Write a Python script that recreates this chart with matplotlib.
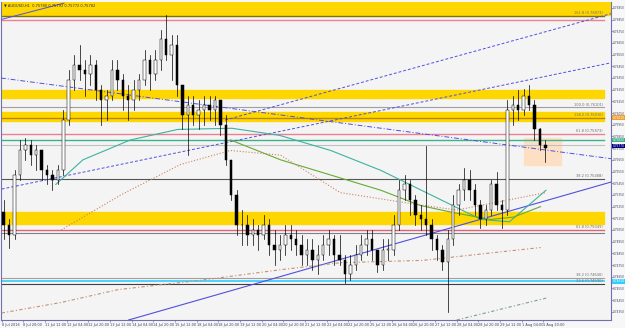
import numpy as np
import matplotlib.pyplot as plt
from matplotlib.patches import Rectangle

# AUDUSD H1, grouped by 4 bars (values in pips, price = v/10000)
highs = [7531,7514,7556,7582,7584,7582,7578,7573,7561,7556,7561,7608,7642,7655,7663,7650,7655,7650,7629,7625,
         7650,7650,7638,7629,7633,7638,7659,7655,7659,7676,7689,7672,7672,7629,7620,7620,7616,7620,7620,7620,
         7616,7603,7565,7539,7522,7518,7514,7509,7518,7514,7505,7501,7509,7509,7505,7501,7497,7497,7492,7501,
         7505,7501,7501,7484,7484,7492,7501,7505,7505,7488,7497,7497,7518,7548,7552,7548,7535,7526,7577,7514,
         7501,7492,7505,7535,7544,7558,7556,7544,7531,7526,7548,7555,7531,7616,7620,7625,7626,7629,7616,7592,7582]
lows = [7497,7490,7497,7548,7565,7561,7556,7548,7544,7539,7544,7552,7595,7625,7633,7620,7629,7616,7595,7599,
        7616,7625,7608,7599,7608,7616,7629,7625,7633,7642,7650,7633,7620,7591,7569,7595,7591,7595,7599,7595,
        7586,7561,7531,7501,7492,7492,7492,7488,7497,7484,7475,7479,7484,7488,7484,7475,7475,7471,7467,7479,
        7484,7475,7475,7460,7462,7471,7479,7484,7479,7469,7471,7479,7484,7505,7531,7518,7509,7505,7501,7488,
        7479,7471,7435,7492,7518,7531,7531,7518,7507,7509,7518,7522,7507,7518,7595,7599,7603,7608,7582,7573,7563]
closes = [7509,7501,7552,7573,7578,7569,7573,7556,7552,7548,7556,7599,7633,7646,7642,7638,7646,7625,7616,7620,
          7642,7633,7620,7616,7625,7633,7650,7638,7650,7668,7655,7663,7629,7603,7612,7603,7608,7612,7608,7616,
          7595,7565,7535,7509,7509,7501,7505,7501,7509,7492,7488,7492,7501,7497,7492,7484,7488,7479,7484,7492,
          7497,7484,7479,7467,7475,7484,7492,7497,7488,7475,7488,7488,7509,7539,7544,7531,7518,7514,7509,7497,
          7488,7478,7497,7526,7539,7548,7539,7526,7514,7522,7544,7526,7522,7608,7612,7608,7620,7612,7591,7578,7575]
first_open = 7520

# moving averages (bar index, pips)
teal_x = [40, 60, 95, 130, 170, 205, 243, 280, 317, 354, 375, 402]
teal_y = [7544, 7565, 7582, 7591, 7592, 7586, 7573, 7556, 7535, 7514, 7512, 7539]
green_x = [169, 206, 243, 280, 309, 333, 361, 378, 398]
green_y = [7582, 7565, 7552, 7539, 7526, 7520, 7514, 7516, 7525]
brown_x = [44, 88, 132, 169, 206, 250, 300, 336, 402]
brown_y = [7505, 7535, 7561, 7573, 7569, 7537, 7528, 7522, 7537]
brown2_x = [0, 44, 86, 147, 206, 250, 311, 398]
brown2_y = [7434, 7443, 7454, 7462, 7471, 7477, 7479, 7490]
gg_x = [336, 403]
gg_y = [7428, 7447]

date_labels = ['8 Jul 2016', '8 Jul 20:00', '11 Jul 12:00', '12 Jul 04:00', '12 Jul 20:00', '13 Jul 12:00',
               '14 Jul 04:00', '14 Jul 20:00', '15 Jul 12:00', '18 Jul 04:00', '18 Jul 20:00', '19 Jul 12:00',
               '20 Jul 04:00', '20 Jul 20:00', '21 Jul 12:00', '22 Jul 04:00', '22 Jul 20:00', '25 Jul 12:00',
               '26 Jul 04:00', '26 Jul 20:00', '27 Jul 12:00', '28 Jul 04:00', '28 Jul 20:00', '29 Jul 12:00',
               '1 Aug 04:00', '1 Aug 20:00']

fig = plt.figure(figsize=(6.25, 3.28), dpi=100)
fig.patch.set_facecolor('#f7f7f7')
ax = fig.add_axes([1/625, 8/328, 610/625, 318/328])
ax.set_facecolor('#f4f4f4')
ax.set_xlim(-0.5, 450)
ax.set_ylim(7428, 7700)

# zones
band = '#ffd700'
ax.axhspan(7689, 7700, xmax=1, color=band, zorder=1)
ax.axhspan(7618, 7625, xmax=0.988, color=band, zorder=1)
ax.axhspan(7598, 7606, xmax=0.988, color=band, zorder=1)
ax.axhspan(7510, 7520, xmax=0.988, color=band, zorder=1)
ax.add_patch(Rectangle((386, 7561), 27, 23, color='#fde0c4', zorder=1))

hl = [(7688, '#8b6f00', 1.0), (7685, '#ee7f8f', 1.0), (7610, '#a0a0a0', 0.8), (7601, '#b8860b', 1.0),
      (7587, '#ee7f8f', 1.0), (7582, '#3cb38c', 1.0), (7578, '#c0c0c0', 0.8), (7549, '#555555', 0.8),
      (7505, '#e0607a', 1.0), (7502, '#808080', 0.8), (7464, '#a0a0a0', 0.8), (7461, '#33ccff', 1.2),
      (7459, '#404040', 0.8)]
for v, c, w in hl:
    ax.axhline(v, color=c, lw=w, xmax=0.988, zorder=2)

fib = [(7688, '161.8 (0.76873)'), (7610, '100.0 (0.76101)'), (7601, '138.2 (0.76016)'),
       (7587, '61.8 (0.75873)'), (7549, '38.2 (0.75488)'), (7505, '61.8 (0.75049)'),
       (7464, '38.2 (0.74640)'), (7459, '23.6 (0.74590)')]
for v, t in fib:
    ax.text(444, v + 0.6, t, fontsize=2.6, color='#707070', ha='right', va='bottom', zorder=3)

# trend lines
lc = '#5050e0'
ax.plot([93.7, 450], [7428, 7546], color=lc, lw=0.8, zorder=3)
ax.plot([165, 450], [7599, 7690], color=lc, lw=0.7, ls=(0, (3, 2)), zorder=3)
ax.plot([0, 450], [7540, 7648], color=lc, lw=0.7, ls=(0, (3, 2)), zorder=3)
ax.plot([-0.5, 46], [7685, 7699], color=lc, lw=0.7, zorder=3)
ax.plot([-0.5, 450], [7635, 7566], color=lc, lw=0.7, ls=(0, (5, 2, 1, 2)), zorder=3)

# MAs
ax.plot(teal_x, teal_y, color='#3cb3a0', lw=0.8, zorder=3)
ax.plot(green_x, green_y, color='#66aa33', lw=0.8, zorder=3)
ax.plot(brown_x, brown_y, color='#d08060', lw=0.8, ls=':', zorder=3)
ax.plot(brown2_x, brown2_y, color='#c89070', lw=0.8, ls=(0, (3, 2, 1, 2)), zorder=3)
ax.plot(gg_x, gg_y, color='#80a090', lw=0.8, ls=(0, (3, 2, 1, 2)), zorder=3)

# candles
opens = [first_open] + closes[:-1]
for i in range(len(closes)):
    xc = 4 * i + 1.5
    ax.plot([xc, xc], [lows[i], highs[i]], color='black', lw=0.5, zorder=4)
    lo, hi = min(opens[i], closes[i]), max(opens[i], closes[i])
    fc = 'white' if closes[i] >= opens[i] else 'black'
    ax.add_patch(Rectangle((xc - 0.9, lo), 1.8, max(hi - lo, 0.6), facecolor=fc,
                           edgecolor='black', lw=0.35, zorder=5))

# axes
for s in ax.spines.values():
    s.set_color('#7070b0')
    s.set_linewidth(0.8)
ax.spines['top'].set_visible(False)
ax.yaxis.tick_right()
yt = np.arange(7435, 7700, 10)
ax.set_yticks(yt)
ax.set_yticklabels(['0.%d0' % v for v in yt], fontsize=2.1, color='#404060')
ax.set_xticks(np.arange(len(date_labels)) * 16)
ax.set_xticklabels(date_labels, fontsize=2.5, color='#404060', ha='left')
ax.tick_params(axis='x', length=1.5, width=0.5, pad=0.8, color='#7070b0')
ax.tick_params(axis='y', length=1.2, width=0.5, pad=0.4, color='#7070b0')

for v, c, tc in [(7601, '#f0a030', 'white'), (7582, '#3cb38c', 'white'),
                 (7577, '#000080', 'white'), (7461, '#33ccff', 'white')]:
    ax.text(451.2, v, '0.%d0' % v, fontsize=2.1, color=tc, va='center', ha='left',
            bbox=dict(boxstyle='square,pad=0.1', fc=c, ec='none'), clip_on=False, zorder=6)

ax.text(2, 7697, '\u25bc AUDUSD,H1  0.75780 0.75792 0.75772 0.75782', fontsize=2.6,
        color='#303030', va='center', zorder=6)

fig.savefig('out.png', dpi=100, facecolor=fig.get_facecolor())
